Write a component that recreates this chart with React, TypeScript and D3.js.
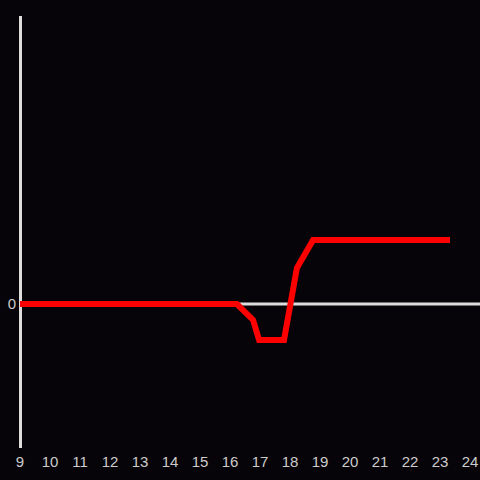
import React from "react";
import * as d3 from "d3";

const xTicks = [9, 10, 11, 12, 13, 14, 15, 16, 17, 18, 19, 20, 21, 22, 23, 24];
const yTicks = [0];
const xValues = [9, 16.23, 16.77, 16.97, 17.8, 18.23, 18.77, 23.33];
const yValues = [0, 0, -0.111, -0.25, -0.25, 0.25, 0.444, 0.444];

export default function App() {
  const W = 480, H = 480;
  const x = d3.scaleLinear().domain([9, 24]).range([20, 470]);
  const y = d3.scaleLinear().domain([-1, 2]).range([448, 16]);
  const line = d3.line<number>().x((d, i) => x(xValues[i])).y((d) => y(d));
  const path = line(yValues) || "";
  const font = "'Liberation Sans', Arial, sans-serif";
  return (
    <div style={{ position: "fixed", left: 0, top: 0 }}>
      <svg width={W} height={H} style={{ display: "block", background: "#060408" }}>
        <rect width={W} height={H} fill="#060408" />
        <line x1={20.5} x2={20.5} y1={16} y2={448} stroke="#dddddd" strokeWidth={3} />
        {yTicks.map((t) => (
          <g key={t}>
            <line x1={20} x2={480} y1={y(t)} y2={y(t)} stroke="#dddddd" strokeWidth={3} />
            <text x={16} y={y(t)} dy="0.35em" textAnchor="end" fill="#cccccc" fontSize={15} fontFamily={font}>{t}</text>
          </g>
        ))}
        <path d={path} fill="none" stroke="#ff0000" strokeWidth={6} strokeLinejoin="miter" strokeLinecap="butt" />
        {xTicks.map((t) => (
          <text key={t} x={x(t)} y={466.5} textAnchor="middle" fill="#cccccc" fontSize={15} fontFamily={font}>{t}</text>
        ))}
      </svg>
    </div>
  );
}
